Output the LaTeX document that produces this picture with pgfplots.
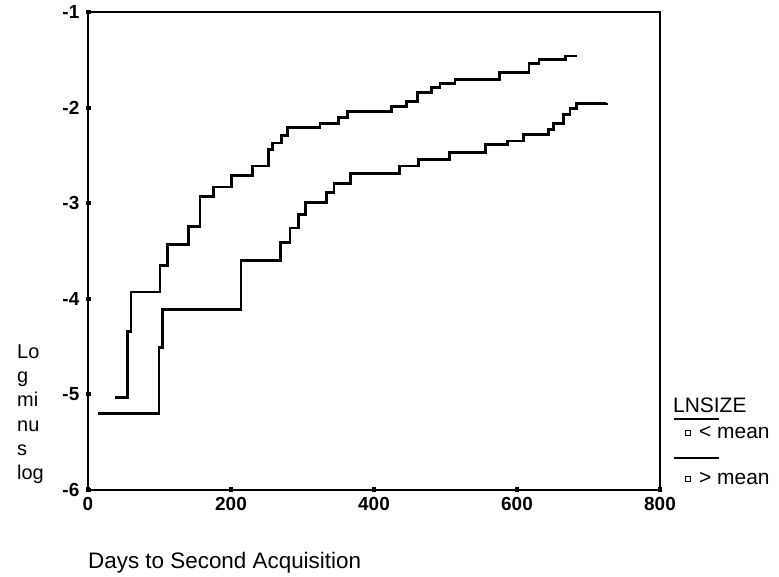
\documentclass[border=0pt]{standalone}
\usepackage{fontspec}
\setmainfont{Liberation Sans}
\usepackage{pgfplots}
\pgfplotsset{compat=1.18}
\begin{document}
\fontsize{21}{24}\selectfont
\begin{tikzpicture}[x=1bp,y=1bp]
\useasboundingbox (0,0) rectangle (779,577);
\begin{axis}[
  at={(88bp,87bp)}, anchor=south west,
  scale only axis, width=572bp, height=478bp,
  xmin=0, xmax=800, ymin=-6, ymax=-1,
  xtick={0,200,400,600,800}, ytick={-6,-5,-4,-3,-2,-1},
  xticklabels={0,200,400,600,800},
  yticklabels={-6,-5,-4,-3,-2,-1},
  xtick pos=bottom, ytick pos=left,
  axis line style={line width=1.8bp},
  tick align=center, major tick length=5bp,
  tick style={line width=4bp, black},
  tick label style={font=\fontsize{19}{22}\selectfont\bfseries, inner sep=0pt},
  yticklabel style={xshift=-6bp},
  xticklabel style={yshift=-5bp},
  clip=false,
]
\addplot[const plot, line width=2.8bp, black] coordinates {
(37.8,-5.03) (55.5,-4.34) (60,-3.93) (100.7,-3.65) (111,-3.43) (141,-3.24)
(156.6,-2.93) (176,-2.83) (201,-2.71) (230,-2.61) (252,-2.44) (258,-2.37)
(271,-2.29) (279,-2.21) (324.5,-2.17) (350,-2.10) (362.7,-2.04) (424.7,-1.99)
(445.7,-1.94) (460.6,-1.84) (480.7,-1.79) (492.3,-1.75) (513.3,-1.71)
(576,-1.63) (616.8,-1.54) (630.8,-1.50) (668,-1.46) (683.5,-1.46)
};
\addplot[const plot, line width=2.8bp, black] coordinates {
(14.5,-5.20) (99.3,-4.51) (104,-4.11) (214,-3.60) (269.5,-3.41) (282.5,-3.26)
(294,-3.12) (304.4,-2.99) (333.8,-2.89) (344,-2.79) (367,-2.69) (436,-2.61)
(462,-2.54) (506,-2.47) (556,-2.39) (587,-2.35) (609,-2.28) (644,-2.23)
(651,-2.17) (665,-2.07) (674,-2.01) (683.5,-1.96) (725.5,-1.95)
};
\end{axis}
% y label stacked
\foreach \t/\yy in {Lo/359, g/383, mi/407, nu/432, s/456, log/480}{
  \node[anchor=base west, inner sep=0pt, font=\fontsize{20}{24}\selectfont] at (17,577-\yy) {\t};
}
% x label
\node[anchor=base west, inner sep=0pt, font=\fontsize{22.5}{26}\selectfont] at (88,8) {Days to Second Acquisition};
% legend
\node[anchor=west, inner sep=0pt] at (673,172) {LNSIZE};
\draw[line width=1.5bp] (674,158) -- (719,158);
\draw[line width=1bp] (685.5,141.5) rectangle (690.5,146.5);
\node[anchor=west, inner sep=0pt] at (699,144) {< mean};
\draw[line width=1.5bp] (674,119) -- (719,119);
\draw[line width=1bp] (685.5,95.5) rectangle (690.5,100.5);
\node[anchor=west, inner sep=0pt] at (699,98) {> mean};
\end{tikzpicture}
\end{document}
